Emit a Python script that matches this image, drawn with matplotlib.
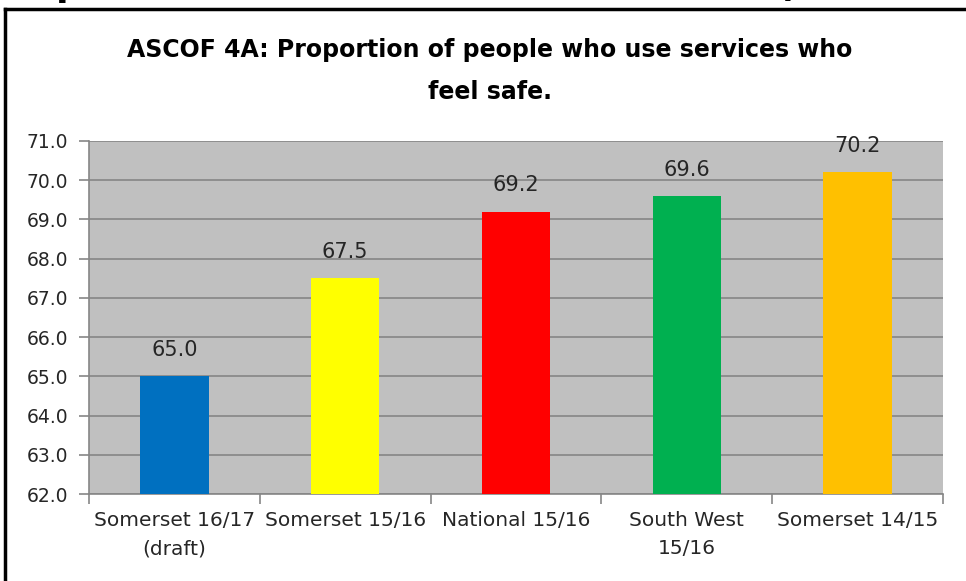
import matplotlib.pyplot as plt
from matplotlib.lines import Line2D

categories = ["Somerset 16/17\n(draft)", "Somerset 15/16", "National 15/16",
              "South West\n15/16", "Somerset 14/15"]
values = [65.0, 67.5, 69.2, 69.6, 70.2]
colors = ["#0070C0", "#FFFF00", "#FF0000", "#00B050", "#FFC000"]
yticks = [62.0, 63.0, 64.0, 65.0, 66.0, 67.0, 68.0, 69.0, 70.0, 71.0]

plt.rcParams['font.family'] = ['DejaVu Sans']

fig = plt.figure(figsize=(9.66, 5.81), dpi=100)
ax = fig.add_axes([89 / 966, 1 - 494 / 581, (943 - 89) / 966, (494 - 141) / 581])
ax.set_facecolor("#C0C0C0")

x = range(len(values))
ax.bar(x, [v - yticks[0] for v in values], bottom=yticks[0], width=0.4,
       color=colors, zorder=3)
for xi, v in zip(x, values):
    ax.annotate(f"{v:.1f}", (xi, v), xytext=(0, 19), textcoords="offset points",
                ha="center", va="center", fontsize=15, color="#262626", zorder=4,
                annotation_clip=False)

ax.set_xlim(-0.5, len(values) - 0.5)
ax.set_ylim(yticks[0], yticks[-1])
ax.set_yticks(yticks)
ax.set_yticklabels([f"{t:.1f}" for t in yticks], fontsize=13.5, color="#262626")
ax.yaxis.grid(True, color="#868686", linewidth=1.2, zorder=1)

ax.set_xticks(list(x))
ax.set_xticklabels(categories, fontsize=14.5, color="#262626", linespacing=1.65)
ax.tick_params(axis="x", length=0, pad=12)
ax.set_xticks([i - 0.5 for i in range(len(values) + 1)], minor=True)
ax.tick_params(axis="x", which="minor", length=7, color="#868686", width=1.2)
ax.tick_params(axis="y", length=7, color="#868686", width=1.2, pad=8)

for s in ["top", "right"]:
    ax.spines[s].set_visible(False)
for s in ["left", "bottom"]:
    ax.spines[s].set_color("#868686")
    ax.spines[s].set_linewidth(1.2)

fig.text(0.507, 1 - 50 / 581, "ASCOF 4A: Proportion of people who use services who",
         ha="center", va="center", fontsize=17, fontweight="bold", color="black")
fig.text(0.507, 1 - 92 / 581, "feel safe.", ha="center", va="center",
         fontsize=17, fontweight="bold", color="black")

# surrounding frame and the cut-off heading above it
fig.add_artist(Line2D([5 / 966, 1.0], [1 - 9 / 581, 1 - 9 / 581], color="black",
                      linewidth=2.5, transform=fig.transFigure))
fig.add_artist(Line2D([5 / 966, 5 / 966], [1 - 9 / 581, 0.0], color="black",
                      linewidth=2.5, transform=fig.transFigure))
fig.text(-0.02, 1 - 3 / 581, "people who use services who feel safe (ASCOF 4A)",
         ha="left", va="bottom", fontsize=26, fontweight="bold", color="black")

fig.savefig("out.png", dpi=100)
